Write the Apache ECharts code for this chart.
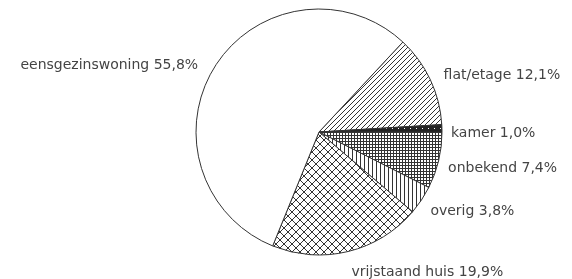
<!DOCTYPE html>
<html>
<head>
<meta charset="utf-8">
<script src="https://cdn.jsdelivr.net/npm/echarts@6/dist/echarts.min.js"></script>
<style>
  html, body { margin: 0; padding: 0; background: #fff; }
  #main { width: 572px; height: 279px; }
</style>
</head>
<body>
<div id="main"></div>
<script>
// woningtype, percentages
const categories = ["flat/etage", "kamer", "onbekend", "overig", "vrijstaand huis", "eensgezinswoning"];
const values = [12.1, 1.0, 7.4, 3.8, 19.9, 55.8];
const valueLabels = ["12,1%", "1,0%", "7,4%", "3,8%", "19,9%", "55,8%"];

// label nudges (px) so the text sits where the original put it
const labelDx = [-8, -14, -13, -11, -6, 3];
const labelDy = [3, 5, 3, 1, 3, 9];

function makePattern(size, draw, bg) {
    const c = document.createElement("canvas");
    c.width = size;
    c.height = size;
    const ctx = c.getContext("2d");
    ctx.fillStyle = bg || "#fff";
    ctx.fillRect(0, 0, size, size);
    ctx.strokeStyle = "#333";
    ctx.fillStyle = "#333";
    ctx.lineWidth = 1;
    draw(ctx, size);
    return { image: c, repeat: "repeat" };
}

const diagPattern = makePattern(5, (ctx, s) => {
    ctx.beginPath();
    ctx.moveTo(-1, s + 1); ctx.lineTo(s + 1, -1);
    ctx.moveTo(-1, 1); ctx.lineTo(1, -1);
    ctx.moveTo(s - 1, s + 1); ctx.lineTo(s + 1, s - 1);
    ctx.stroke();
});
const gridPattern = makePattern(3, (ctx, s) => {
    ctx.fillRect(0, 0, s, 1);
    ctx.fillRect(0, 0, 1, s);
});
const vertPattern = makePattern(4, (ctx, s) => {
    ctx.fillRect(0, 0, 1, s);
});
const crossPattern = makePattern(8, (ctx, s) => {
    ctx.beginPath();
    ctx.moveTo(0, 0); ctx.lineTo(s, s);
    ctx.moveTo(0, s); ctx.lineTo(s, 0);
    ctx.stroke();
});
const kamerPattern = makePattern(6, (ctx, s) => {
    ctx.fillStyle = "#222";
    ctx.fillRect(0, 0, s, s);
    ctx.fillStyle = "#fff";
    ctx.fillRect(2, 2, 1, 1);
});

const fills = [diagPattern, kamerPattern, gridPattern, vertPattern, crossPattern, "#fff"];

let charts = echarts.init(document.getElementById("main"));

const option = {
    animation: false,
    series: [
        {
            type: "pie",
            center: [319, 132],
            radius: 123,
            startAngle: 47,
            clockwise: true,
            avoidLabelOverlap: false,
            itemStyle: {
                borderColor: "#333",
                borderWidth: 1
            },
            label: {
                show: true,
                position: "outside",
                fontFamily: "DejaVu Sans",
                fontSize: 14,
                color: "#444",
                formatter: (p) => p.name + " " + valueLabels[p.dataIndex]
            },
            labelLine: {
                show: false,
                length: 18,
                length2: 0
            },
            labelLayout: (p) => ({
                dx: labelDx[p.dataIndex],
                dy: labelDy[p.dataIndex]
            }),
            emphasis: { disabled: true },
            data: categories.map((c, i) => ({
                name: c,
                value: values[i],
                itemStyle: { color: fills[i] }
            }))
        }
    ]
};

charts.setOption(option);
</script>
</body>
</html>
